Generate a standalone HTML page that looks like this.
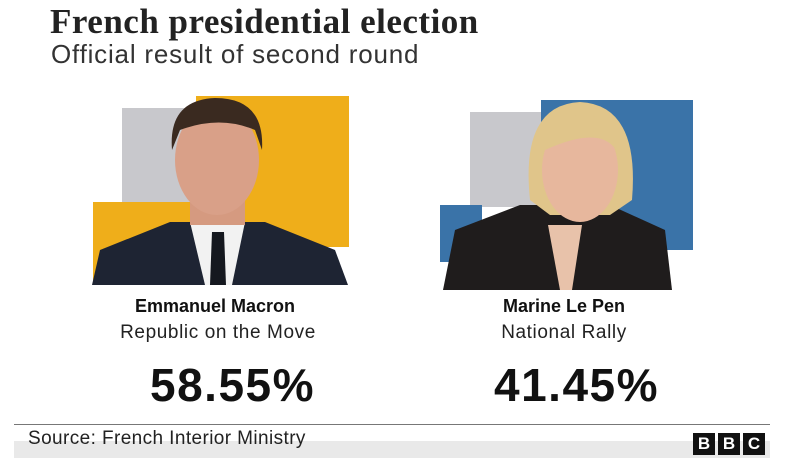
<!DOCTYPE html>
<html><head><style>
body{margin:0;width:790px;height:467px;background:#fff;position:relative;overflow:hidden;font-family:"Liberation Sans",sans-serif;color:#222}
.a{position:absolute}
</style></head><body>
<div class="a" style="left:50px;top:2px;font-family:'Liberation Serif',serif;font-weight:bold;font-size:35px;letter-spacing:0.5px;color:#222">French presidential election</div>
<div class="a" style="left:51px;top:39px;font-size:26px;letter-spacing:0.8px;color:#333">Official result of second round</div>

<svg class="a" style="left:0;top:0" width="790" height="300">
<rect x="122" y="108" width="80" height="95" fill="#c8c8cc"/>
<rect x="196" y="96" width="153" height="151" fill="#efae1a"/>
<rect x="93" y="202" width="183" height="83" fill="#efae1a"/>
<path d="M92 285 L100 250 L170 222 L265 222 L335 250 L348 285Z" fill="#1e2433"/>
<path d="M190 222 L245 222 L232 285 L205 285Z" fill="#f2f2f2"/>
<path d="M212 232 L224 232 L226 285 L210 285Z" fill="#15181f"/>
<rect x="190" y="195" width="55" height="30" fill="#d59a80"/>
<ellipse cx="217" cy="160" rx="42" ry="55" fill="#d9a088"/>
<path d="M172 150 Q168 100 215 98 Q265 98 262 150 L255 130 Q220 115 180 130Z" fill="#3a2a20"/>

<rect x="470" y="112" width="75" height="95" fill="#c8c8cc"/>
<rect x="541" y="100" width="152" height="150" fill="#3a73a8"/>
<rect x="440" y="205" width="42" height="57" fill="#3a73a8"/>
<path d="M443 290 L455 230 L520 205 L610 205 L665 230 L672 290Z" fill="#1f1c1c"/>
<path d="M548 225 L582 225 L572 290 L560 290Z" fill="#e8c2aa"/>
<path d="M530 200 Q520 105 580 102 Q640 105 632 200 L610 215 L550 215Z" fill="#e0c58a"/>
<ellipse cx="580" cy="170" rx="38" ry="52" fill="#e7b79d"/>
<path d="M545 150 Q545 115 580 115 Q618 115 616 150 Q600 125 545 150Z" fill="#e0c58a"/>
</svg>

<div class="a" style="left:115px;top:296px;width:200px;text-align:center;font-weight:bold;font-size:18px;color:#111">Emmanuel Macron</div>
<div class="a" style="left:100px;top:322px;width:236px;text-align:center;font-size:19px;letter-spacing:0.6px;color:#222">Republic on the Move</div>
<div class="a" style="left:464px;top:296px;width:200px;text-align:center;font-weight:bold;font-size:18px;color:#111">Marine Le Pen</div>
<div class="a" style="left:464px;top:322px;width:200px;text-align:center;font-size:19px;letter-spacing:0.6px;color:#222">National Rally</div>
<div class="a" style="left:150px;top:358px;font-weight:bold;font-size:46px;letter-spacing:1.5px;color:#111">58.55%</div>
<div class="a" style="left:494px;top:358px;font-weight:bold;font-size:46px;letter-spacing:1.5px;color:#111">41.45%</div>

<div class="a" style="left:14px;top:424px;width:756px;height:1px;background:#777"></div>
<div class="a" style="left:14px;top:441px;width:756px;height:17px;background:#e9e9e9"></div>
<div class="a" style="left:28px;top:428px;font-size:19px;letter-spacing:0.4px;color:#222">Source: French Interior Ministry</div>
<div class="a" style="left:693px;top:433px;display:flex;gap:3px">
<div style="width:22px;height:22px;background:#111;color:#fff;font-weight:bold;font-size:17px;text-align:center;line-height:22px">B</div>
<div style="width:22px;height:22px;background:#111;color:#fff;font-weight:bold;font-size:17px;text-align:center;line-height:22px">B</div>
<div style="width:22px;height:22px;background:#111;color:#fff;font-weight:bold;font-size:17px;text-align:center;line-height:22px">C</div>
</div>
</body></html>
